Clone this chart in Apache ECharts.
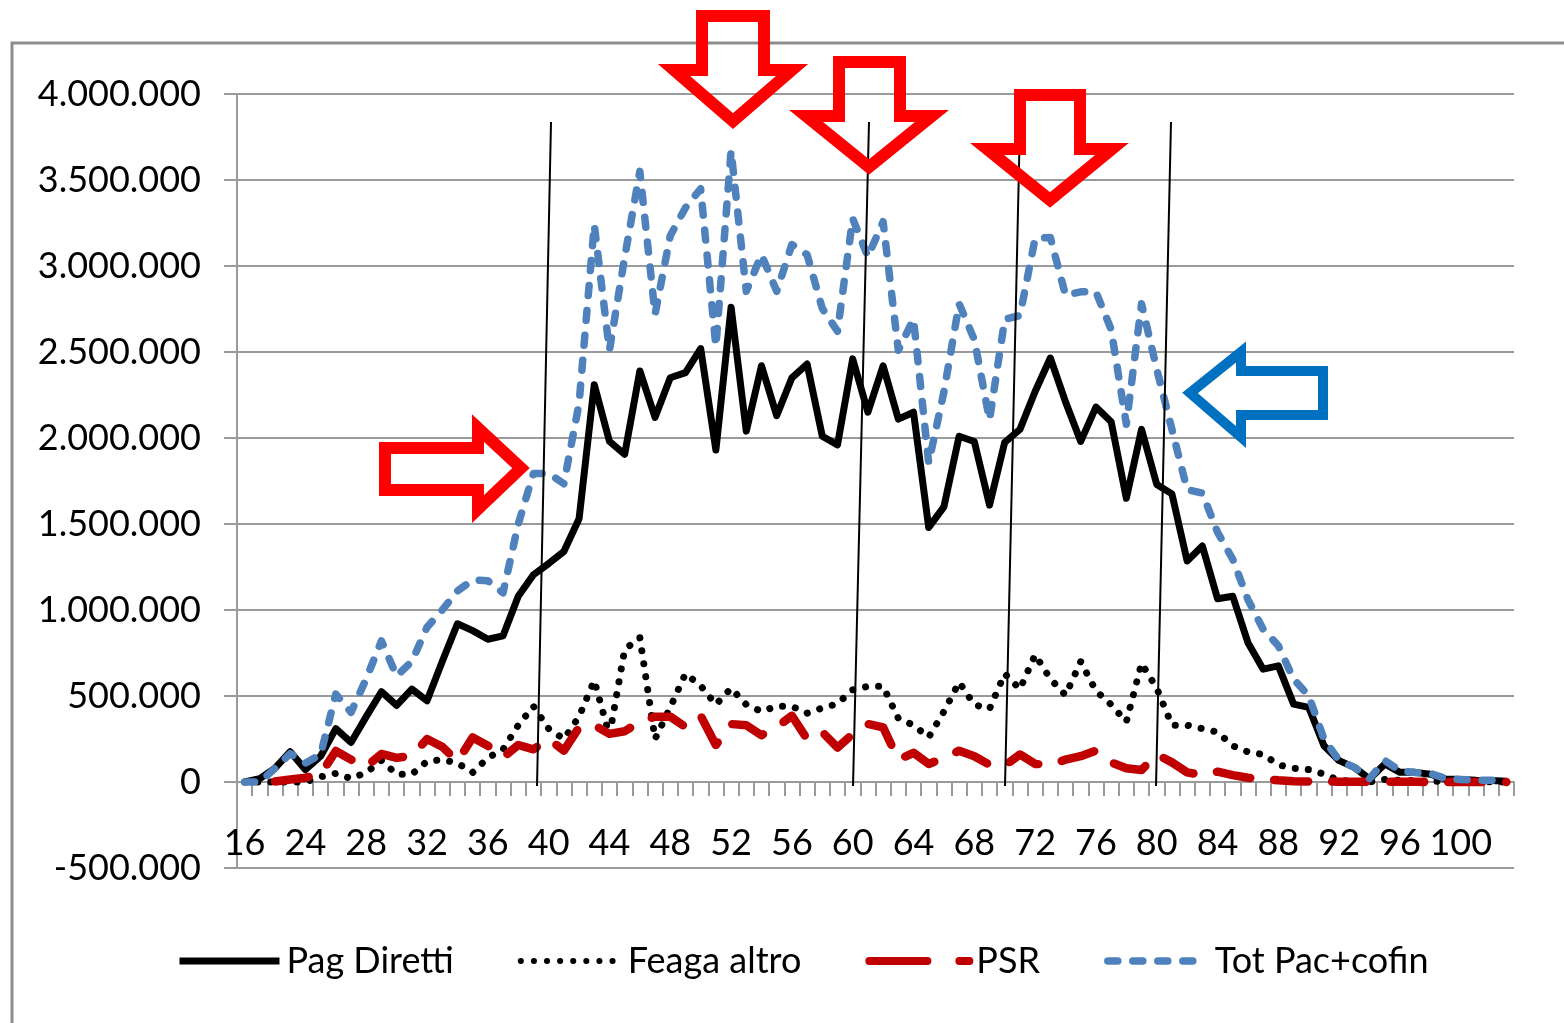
<!DOCTYPE html>
<html lang="it">
<head>
<meta charset="utf-8">
<title>Pagamenti per età</title>
<script src="https://cdn.jsdelivr.net/npm/echarts@6/dist/echarts.min.js"></script>
<style>
  html, body { margin: 0; padding: 0; background: #fff; }
  #main { width: 1564px; height: 1023px; }
</style>
</head>
<body>
<div id="main"></div>
<script type="text/javascript">
// categorie (età): la prima etichetta è "16", poi 21..103
var eta = ['16'];
for (var a = 21; a <= 103; a++) eta.push(String(a));

var pagDiretti = [
  0, 20000, 80000, 176000, 72000, 150000, 310000, 230000, 380000, 525000,
  445000, 540000, 472000, 700000, 920000, 880000, 830000, 850000, 1080000, 1205000,
  1270000, 1340000, 1530000, 2310000, 1980000, 1905000, 2390000, 2120000, 2350000, 2380000,
  2520000, 1930000, 2760000, 2040000, 2420000, 2130000, 2350000, 2430000, 2010000, 1960000,
  2460000, 2150000, 2420000, 2110000, 2150000, 1480000, 1600000, 2010000, 1980000, 1610000,
  1975000, 2050000, 2270000, 2465000, 2210000, 1980000, 2180000, 2095000, 1650000, 2050000,
  1730000, 1675000, 1285000, 1372000, 1065000, 1080000, 810000, 656000, 675000, 453000,
  434000, 211000, 124000, 85000, 17000, 105000, 56000, 56000, 45000, 17000,
  15000, 10000, 8000, 5000
];

var feagaAltro = [
  0, 0, 0, 0, 0, 30000, 50000, 20000, 55000, 125000,
  45000, 45000, 120000, 130000, 110000, 55000, 140000, 190000, 330000, 440000,
  310000, 250000, 380000, 590000, 270000, 770000, 840000, 250000, 434000, 630000,
  560000, 450000, 545000, 450000, 410000, 440000, 440000, 400000, 430000, 455000,
  536000, 556000, 556000, 370000, 330000, 260000, 410000, 580000, 450000, 425000,
  630000, 540000, 740000, 600000, 505000, 700000, 530000, 450000, 350000, 690000,
  545000, 330000, 330000, 310000, 290000, 210000, 175000, 160000, 100000, 80000,
  72000, 46000, 8000, 5000, 0, 15000, 10000, 8000, 5000, 3000,
  2000, 1000, 1000, 0
];

var psr = [
  null, null, 3000, 15000, 25000, 45000, 180000, 130000, 90000, 163000,
  140000, 153000, 250000, 205000, 120000, 259000, 211000, 143000, 215000, 190000,
  250000, 182000, 318000, 330000, 280000, 295000, 350000, 380000, 380000, 320000,
  385000, 215000, 337000, 330000, 272000, 320000, 385000, 250000, 290000, 200000,
  279000, 337000, 318000, 130000, 170000, 105000, 140000, 182000, 150000, 100000,
  95000, 160000, 105000, 100000, 130000, 150000, 182000, 114000, 80000, 70000,
  160000, 114000, 56000, 40000, 60000, 40000, 25000, 17000, 10000, 5000,
  3000, 3000, 2000, 2000, 2000, 2000, 2000, 1000, 0, 0,
  0, 0, 0, 0
];

var totPacCofin = [
  0, 0, 80000, 165000, 110000, 160000, 511000, 405000, 600000, 820000,
  617000, 700000, 900000, 1000000, 1110000, 1175000, 1170000, 1100000, 1500000, 1794000,
  1794000, 1734000, 2200000, 3240000, 2510000, 3050000, 3550000, 2720000, 3176000, 3339000,
  3449000, 2532000, 3670000, 2853000, 3066000, 2853000, 3125000, 3066000, 2753000, 2621000,
  3276000, 3054000, 3258000, 2510000, 2692000, 1855000, 2268000, 2780000, 2572000, 2105000,
  2690000, 2712000, 3160000, 3166000, 2830000, 2850000, 2850000, 2631000, 2080000, 2780000,
  2400000, 2050000, 1700000, 1680000, 1452000, 1295000, 1060000, 888000, 792000, 598000,
  501000, 250000, 124000, 85000, 20000, 125000, 65000, 55000, 50000, 20000,
  15000, 10000, 10000, 5000
];

var yMin = -500000, yMax = 4000000, yStep = 500000;

// formato numeri all'italiana: 4.000.000
function fmtNum(v) {
  var s = Math.abs(v).toString().replace(/\B(?=(\d{3})+(?!\d))/g, '.');
  return (v < 0 ? '-' : '') + s;
}

var font = 'Lato, "Open Sans", sans-serif';
var grigio = '#9a9a9a';

var myChart = echarts.init(document.getElementById('main'), null, { renderer: 'canvas' });

var option = {
  animation: false,
  backgroundColor: '#ffffff',
  textStyle: { fontFamily: font },
  grid: { left: 237, right: 50, top: 94, bottom: 155, containLabel: false },
  legend: {
    left: 171,
    top: 936,
    itemWidth: 100,
    itemHeight: 14,
    itemGap: 64,
    itemStyle: { opacity: 0 },
    textStyle: { fontSize: 36, color: '#000', fontFamily: font, lineHeight: 40, padding: [0, 0, 0, 2] },
    data: [
      { name: 'Pag Diretti', lineStyle: { width: 7, cap: 'butt' } },
      { name: 'Feaga altro', lineStyle: { width: 6, type: [0.1, 13], cap: 'round' } },
      { name: 'PSR', lineStyle: { width: 8, type: [58, 32], cap: 'round' } },
      { name: 'Tot Pac+cofin', lineStyle: { width: 7.5, type: [10, 15], cap: 'round' } }
    ]
  },
  xAxis: {
    type: 'category',
    boundaryGap: true,
    data: eta,
    axisLine: { onZero: true, lineStyle: { color: grigio, width: 2 } },
    axisTick: { show: true, interval: 0, length: 14, lineStyle: { color: grigio, width: 2 } },
    axisLabel: { interval: 3, fontSize: 36, color: '#000', margin: -43, fontFamily: font }
  },
  yAxis: {
    type: 'value',
    min: yMin,
    max: yMax,
    interval: yStep,
    axisLine: { show: true, lineStyle: { color: grigio, width: 2 } },
    axisTick: { show: true, length: 13, lineStyle: { color: grigio, width: 2 } },
    axisLabel: { fontSize: 36, color: '#000', margin: 36, fontFamily: font, formatter: fmtNum },
    splitLine: { show: true, lineStyle: { color: grigio, width: 2 } }
  },
  series: [
    {
      name: 'Pag Diretti', type: 'line', data: pagDiretti,
      symbol: 'none', showSymbol: false, color: '#000000',
      lineStyle: { color: '#000000', width: 7, join: 'round' }
    },
    {
      name: 'Feaga altro', type: 'line', data: feagaAltro,
      symbol: 'none', showSymbol: false, color: '#000000',
      lineStyle: { color: '#000000', width: 7, type: [0.1, 13], cap: 'round', join: 'round' }
    },
    {
      name: 'PSR', type: 'line', data: psr,
      symbol: 'none', showSymbol: false, color: '#C00000',
      lineStyle: { color: '#C00000', width: 8.5, type: [34, 24], cap: 'round', join: 'round' }
    },
    {
      name: 'Tot Pac+cofin', type: 'line', data: totPacCofin,
      symbol: 'none', showSymbol: false, color: '#4F81BD',
      lineStyle: { color: '#4F81BD', width: 7.5, type: [10, 15], cap: 'round', join: 'round' }
    }
  ],
  graphic: [
    // cornice
    { type: 'rect', z: 100, silent: true,
      shape: { x: 12, y: 43, width: 1600, height: 1100 },
      style: { fill: 'none', stroke: '#8c8c8c', lineWidth: 3 } },
    // linee oblique a mano
    { type: 'line', z: 100, shape: { x1: 551, y1: 122, x2: 537, y2: 786 }, style: { stroke: '#000', lineWidth: 2 } },
    { type: 'line', z: 100, shape: { x1: 869, y1: 122, x2: 853, y2: 786 }, style: { stroke: '#000', lineWidth: 2 } },
    { type: 'line', z: 100, shape: { x1: 1020, y1: 122, x2: 1005, y2: 786 }, style: { stroke: '#000', lineWidth: 2 } },
    { type: 'line', z: 100, shape: { x1: 1171, y1: 122, x2: 1156, y2: 786 }, style: { stroke: '#000', lineWidth: 2 } },
    // frecce rosse
    { type: 'polygon', z: 101,
      shape: { points: [[702, 16], [764, 16], [764, 70], [792, 70], [733, 121], [674, 70], [702, 70]] },
      style: { fill: 'none', stroke: '#ff0000', lineWidth: 12 } },
    { type: 'polygon', z: 101,
      shape: { points: [[839, 62], [900, 62], [900, 116], [932, 116], [869, 167], [806, 116], [839, 116]] },
      style: { fill: 'none', stroke: '#ff0000', lineWidth: 12 } },
    { type: 'polygon', z: 101,
      shape: { points: [[1020, 95], [1080, 95], [1080, 149], [1112, 149], [1050, 200], [987, 149], [1020, 149]] },
      style: { fill: 'none', stroke: '#ff0000', lineWidth: 12 } },
    { type: 'polygon', z: 101,
      shape: { points: [[385, 448], [478, 448], [478, 428], [521, 468], [478, 509], [478, 490], [385, 490]] },
      style: { fill: 'none', stroke: '#ff0000', lineWidth: 12 } },
    // freccia blu
    { type: 'polygon', z: 101,
      shape: { points: [[1190, 393], [1241, 352], [1241, 371], [1323, 371], [1323, 415], [1241, 415], [1241, 437]] },
      style: { fill: 'none', stroke: '#0070C0', lineWidth: 10 } }
  ]
};

myChart.setOption(option);
</script>
</body>
</html>
